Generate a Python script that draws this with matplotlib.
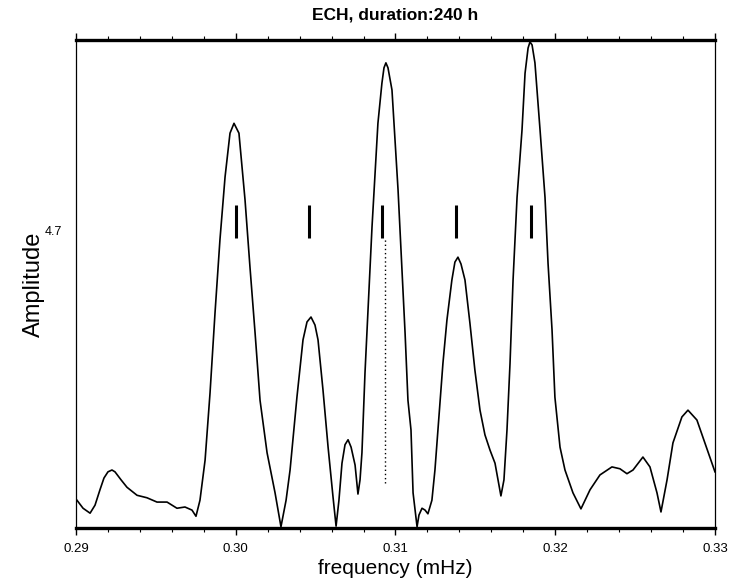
import matplotlib
matplotlib.use('Agg')
import matplotlib.pyplot as plt
from matplotlib.ticker import MultipleLocator, FixedLocator

plt.rcParams['font.family'] = ['Liberation Sans', 'DejaVu Sans']

# periodogram: frequency (mHz), amplitude
freq = [0.29000, 0.29044, 0.29088, 0.29119, 0.29150, 0.29175, 0.29200, 0.29225,
        0.29244, 0.29282, 0.29319, 0.29382, 0.29444, 0.29507, 0.29570, 0.29632,
        0.29682, 0.29726, 0.29751, 0.29776, 0.29808, 0.29839, 0.29870, 0.29901,
        0.29933, 0.29964, 0.29989, 0.30020, 0.30058, 0.30089, 0.30121, 0.30152,
        0.30196, 0.30246, 0.30283, 0.30315, 0.30340, 0.30383, 0.30421, 0.30446,
        0.30471, 0.30496, 0.30515, 0.30546, 0.30578, 0.30609, 0.30628, 0.30646,
        0.30665, 0.30684, 0.30703, 0.30722, 0.30747, 0.30765, 0.30778, 0.30790,
        0.30809, 0.30822, 0.30840, 0.30853, 0.30872, 0.30890, 0.30915, 0.30928,
        0.30940, 0.30953, 0.30978, 0.30997, 0.31016, 0.31041, 0.31060, 0.31078,
        0.31097, 0.31110, 0.31135, 0.31147, 0.31166, 0.31185, 0.31203, 0.31228,
        0.31247, 0.31266, 0.31297, 0.31322, 0.31353, 0.31372, 0.31391, 0.31410,
        0.31435, 0.31466, 0.31497, 0.31529, 0.31560, 0.31592, 0.31623, 0.31642,
        0.31660, 0.31679, 0.31698, 0.31717, 0.31736, 0.31761, 0.31792, 0.31811,
        0.31830, 0.31842, 0.31855, 0.31873, 0.31905, 0.31936, 0.31955, 0.31980,
        0.31998, 0.32030, 0.32061, 0.32111, 0.32161, 0.32218, 0.32280, 0.32355,
        0.32405, 0.32449, 0.32487, 0.32549, 0.32593, 0.32637, 0.32662, 0.32700,
        0.32737, 0.32793, 0.32831, 0.32887, 0.32937, 0.33000]
amp = [0.47, 0.32, 0.24, 0.37, 0.62, 0.81, 0.91, 0.94,
       0.91, 0.78, 0.66, 0.53, 0.49, 0.42, 0.42, 0.32,
       0.34, 0.29, 0.19, 0.45, 1.10, 2.19, 3.48, 4.67,
       5.69, 6.40, 6.56, 6.40, 5.32, 4.23, 3.16, 2.07,
       1.22, 0.57, 0.02, 0.45, 0.94, 2.12, 3.05, 3.34,
       3.42, 3.29, 3.05, 2.24, 1.31, 0.50, 0.03, 0.45,
       1.05, 1.35, 1.43, 1.31, 1.02, 0.55, 0.78, 1.22,
       2.51, 3.21, 4.18, 4.88, 5.75, 6.56, 7.21, 7.46,
       7.54, 7.46, 7.10, 6.29, 5.48, 4.18, 3.16, 2.07,
       1.59, 0.57, 0.02, 0.21, 0.32, 0.29, 0.23, 0.45,
       0.94, 1.59, 2.67, 3.37, 4.02, 4.31, 4.39, 4.28,
       4.02, 3.32, 2.56, 1.91, 1.51, 1.26, 1.05, 0.78,
       0.52, 0.78, 1.59, 2.67, 4.02, 5.36, 6.45, 7.37,
       7.78, 7.88, 7.83, 7.54, 6.45, 5.36, 4.29, 3.21,
       2.12, 1.31, 0.94, 0.57, 0.31, 0.62, 0.86, 0.99,
       0.96, 0.88, 0.94, 1.15, 0.99, 0.57, 0.26, 0.78,
       1.38, 1.80, 1.91, 1.75, 1.38, 0.91]

# multiplet marks
mark_freq = [0.30002, 0.30459, 0.30915, 0.31379, 0.31848]
mark_lo, mark_hi = 4.70, 5.24
dot_freq = 0.30934
dot_lo, dot_hi = 0.73, 4.70

fig = plt.figure(figsize=(7.46, 5.86), dpi=100)
ax = fig.add_axes([0.1019, 0.099, 0.8565, 0.8327])

ax.plot(freq, amp, color='black', linewidth=1.2)
ax.vlines(mark_freq, mark_lo, mark_hi, color='black', linewidth=2.2)
ax.vlines([dot_freq], dot_lo, dot_hi, color='black', linewidth=1.0, linestyles=(0, (1, 2)))

ax.set_xlim(0.29, 0.33)
ax.set_ylim(0, 7.91)

ax.xaxis.set_major_locator(FixedLocator([0.29, 0.30, 0.31, 0.32, 0.33]))
ax.xaxis.set_major_formatter(plt.FuncFormatter(lambda v, p: '{:.2f}'.format(v)))
ax.xaxis.set_minor_locator(MultipleLocator(0.002))
ax.tick_params(axis='x', which='major', direction='out', length=5, width=1,
               labelsize=9.5, top=True, pad=6)
ax.tick_params(axis='x', which='minor', direction='out', length=3, width=0.8, top=True)

ax.set_yticks([4.7])
ax.set_yticklabels(['4.7'])
ax.tick_params(axis='y', length=0, labelsize=9, pad=10)
for lab in ax.get_yticklabels():
    lab.set_verticalalignment('bottom')

for s in ['top', 'bottom']:
    ax.spines[s].set_linewidth(2.4)
for s in ['left', 'right']:
    ax.spines[s].set_linewidth(0.9)

ax.set_xlabel('frequency (mHz)', fontsize=15, labelpad=3)
ax.set_ylabel('Amplitude', fontsize=17, labelpad=0)
ax.set_title('ECH, duration:240 h', fontsize=12.5, fontweight='bold', pad=15)

fig.savefig('out.png', dpi=100)
